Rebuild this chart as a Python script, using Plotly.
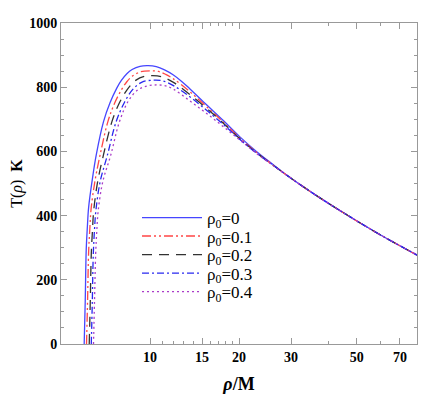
import plotly.graph_objects as go

# ---- values (rho/M, T in K) ----
rho_a = [5.99, 6.04, 6.085, 6.14, 6.2, 6.38, 6.58, 6.96, 7.33, 7.72, 8.0, 8.35, 8.7, 9.25, 9.85, 10.5, 11.2, 12.0, 12.8, 13.6, 15.5, 17.7, 20.1, 22.9, 26.0, 29.6, 35.5, 46.0, 59.6, 80.0]
T_a = [0, 137, 293, 365, 425, 512, 589, 692, 752, 797, 821, 842, 855, 865, 867, 864, 854, 838, 818, 796, 746, 696, 646, 600, 560, 520, 470, 404, 342, 277]

rho_b = [6.1, 6.15, 6.2, 6.26, 6.32, 6.52, 6.78, 7.2, 7.59, 8.03, 8.35, 8.7, 9.3, 10.0, 10.7, 11.3, 12.0, 13.6, 15.5, 17.7, 20.1, 22.9, 26.0, 29.6, 35.5, 46.0, 59.6, 80.0]
T_b = [0, 135, 285, 360, 420, 510, 589, 692, 750, 794, 817, 834, 848, 851, 849, 840, 826, 787, 740, 691, 642, 597, 558, 520, 470, 404, 342, 277]

rho_c = [6.23, 6.28, 6.33, 6.39, 6.45, 6.65, 6.96, 7.43, 7.86, 8.35, 8.97, 9.6, 10.2, 10.9, 12.0, 13.6, 15.5, 17.7, 20.1, 22.9, 26.0, 29.6, 35.5, 46.0, 59.6, 80.0]
T_c = [0, 130, 280, 355, 415, 505, 589, 692, 749, 791, 822, 834, 836, 833, 815, 778, 735, 688, 640, 596, 558, 520, 470, 404, 342, 277]

rho_d = [6.33, 6.38, 6.43, 6.49, 6.56, 6.78, 7.18, 7.68, 8.21, 8.78, 9.4, 10.3, 11.0, 12.0, 13.6, 15.5, 17.7, 20.1, 22.9, 26.0, 29.6, 35.5, 46.0, 59.6, 80.0]
T_d = [0, 130, 280, 355, 415, 505, 589, 692, 754, 795, 816, 822, 820, 805, 771, 729, 684, 638, 595, 558, 520, 470, 404, 342, 277]

rho_e = [6.44, 6.49, 6.55, 6.61, 6.68, 6.92, 7.37, 7.88, 8.46, 9.11, 9.8, 10.5, 11.2, 12.0, 13.6, 15.5, 17.7, 20.1, 22.9, 26.0, 29.6, 35.5, 46.0, 59.6, 80.0]
T_e = [0, 130, 280, 355, 415, 505, 589, 692, 758, 792, 804, 807, 805, 794, 758, 719, 677, 636, 594, 557, 520, 470, 404, 342, 277]

names = ["ρ<sub>0</sub>=0", "ρ<sub>0</sub>=0.1", "ρ<sub>0</sub>=0.2", "ρ<sub>0</sub>=0.3", "ρ<sub>0</sub>=0.4"]

x_ticks = [10, 15, 20, 30, 50, 70]
x_minor = [11, 12, 13, 14, 16, 17, 18, 19, 40, 60]
y_ticks = [0, 200, 400, 600, 800, 1000]

series = [(rho_a, T_a), (rho_b, T_b), (rho_c, T_c), (rho_d, T_d), (rho_e, T_e)]
styles = [
    dict(color="rgb(70,70,255)", dash="solid"),
    dict(color="rgb(255,70,70)", dash="9px,3px,2px,3px,2px,3px"),
    dict(color="rgb(50,50,50)", dash="10px,7px"),
    dict(color="rgb(40,40,240)", dash="7px,3px,2px,3px"),
    dict(color="rgb(170,60,200)", dash="2px,3px"),
]

# each entry gets its own legend box so the rows can sit close together
legend_rows = [0.3925, 0.335, 0.2773, 0.2196, 0.162]
legend_ids = ["legend", "legend2", "legend3", "legend4", "legend5"]

fig = go.Figure()

for (x, y), name, st, lid in zip(series, names, styles, legend_ids):
    fig.add_trace(
        go.Scatter(
            x=x,
            y=y,
            mode="lines",
            name=name,
            legend=lid,
            line=dict(color=st["color"], dash=st["dash"], width=1.3, shape="spline", smoothing=1),
        )
    )

legend_style = dict(
    x=0.2135,
    xanchor="left",
    yanchor="middle",
    bgcolor="rgba(0,0,0,0)",
    font=dict(family="Liberation Serif", size=17, color="black"),
    itemwidth=60,
)

tickfont = dict(family="Liberation Serif", size=14, color="black", weight="bold")

# page body keeps an 8px margin, so the figure is sized to fit the window
fig.update_layout(
    template="simple_white",
    width=428,
    height=386,
    margin=dict(l=53, r=19, t=15, b=50),
    paper_bgcolor="white",
    plot_bgcolor="white",
    showlegend=True,
)
fig.update_layout({lid: dict(legend_style, y=yy) for lid, yy in zip(legend_ids, legend_rows)})

fig.update_xaxes(
    type="log",
    range=[0.699, 1.903],
    tickvals=x_ticks,
    ticktext=[str(v) for v in x_ticks],
    ticks="inside",
    ticklen=6,
    tickcolor="#999",
    minor=dict(tickvals=x_minor, ticks="inside", ticklen=3, tickcolor="#999"),
    showline=True,
    linecolor="#999",
    linewidth=1,
    mirror="ticks",
    showgrid=False,
    automargin=False,
    tickfont=tickfont,
    title=dict(
        text="<i>ρ</i>/<b>M</b>",
        font=dict(family="Liberation Serif", size=18, color="black", weight="bold"),
        standoff=14,
    ),
)

fig.update_yaxes(
    range=[0, 1000],
    tickvals=y_ticks,
    ticks="inside",
    ticklen=6,
    tickcolor="#999",
    minor=dict(dtick=50, ticks="inside", ticklen=3, tickcolor="#999"),
    showline=True,
    linecolor="#999",
    linewidth=1,
    mirror="ticks",
    showgrid=False,
    automargin=False,
    tickfont=tickfont,
    title=dict(
        text="T(<i>ρ</i>)  <b>K</b>",
        font=dict(family="Liberation Serif", size=16, color="black"),
        standoff=16,
    ),
)

fig.write_html("out.html")
